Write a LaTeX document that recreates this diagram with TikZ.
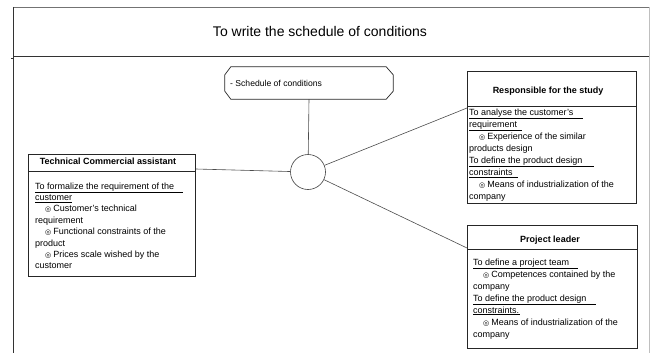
\documentclass[tikz,border=0pt]{standalone}
\usepackage{fontspec}
\setmainfont{Liberation Sans}
\newfontfamily\symfont{DejaVu Sans}
\usetikzlibrary{calc}

% bullet used in front of the resources listed under each task
\newcommand{\resbul}{\hspace*{10pt}{\symfont\fontsize{7}{7}\selectfont ◎}\hspace{2pt}}
% underlined task heading, with an extra underlined tail
\newcommand{\taskul}[2]{\underline{#1\hspace{#2}}}

\tikzset{
  frameline/.style={line width=0.9pt, draw=black!80},
  boxline/.style={draw=black!85, line width=0.8pt},
  conn/.style={draw=black!70, line width=0.6pt},
  boxtitle/.style={inner sep=0pt, font=\fontsize{9}{11}\selectfont\bfseries},
  bodytext/.style={inner sep=0pt, align=left, anchor=north west},
  rolebox/.style={boxline, anchor=north west, inner sep=0pt},
}

\begin{document}
\begin{tikzpicture}[x=1pt,y=-1pt]
\useasboundingbox (0,0) rectangle (650,353);

% page frame with the title band
\draw[line width=0.8pt, draw=black!55] (13,7) -- (649,7);
\draw[frameline] (13,56) -- (649,56);
\draw[line width=1pt, draw=black!80] (13,7) -- (13,353);
\draw[line width=0.6pt, draw=black!25] (649,7) -- (649,353);
\draw[line width=1pt, draw=black!80] (11,59) -- (13,59);
\node[inner sep=0pt, font=\fontsize{14}{16}\selectfont] (title) at (320,31) {To write the schedule of conditions};

% central deliverable
\node[minimum width=168pt, minimum height=32pt, inner sep=0pt] (sched) at (309,83) {};
\draw[boxline, line width=0.7pt]
  ($(sched.north west)+(6,0)$) -- ($(sched.north east)+(-7,0)$) -- ($(sched.north east)+(0,8)$)
  -- ($(sched.south east)+(0,-8)$) -- ($(sched.south east)+(-7,0)$) -- ($(sched.south west)+(6,0)$)
  -- ($(sched.south west)+(0,-8)$) -- ($(sched.north west)+(0,8)$) -- cycle;
\node[inner sep=0pt, anchor=west, font=\fontsize{8.6}{10}\selectfont] (schedlabel) at (230,83) {- Schedule of conditions};

% hub
\node[circle, draw=black!75, line width=0.6pt, minimum size=35pt, inner sep=0pt] (hub) at (308,172) {};

% Technical Commercial assistant
\node[rolebox, minimum width=167pt, minimum height=122pt] (tech) at (28,154) {};
\draw[boxline] ($(tech.north west)+(0,17)$) -- ($(tech.north east)+(0,17)$);
\node[boxtitle] (techtitle) at (108,161) {Technical Commercial assistant};
\node[bodytext, font=\fontsize{9}{11.4}\selectfont] (techbody) at (35,182.4) {%
\taskul{To formalize the requirement of the}{9pt}\\
\taskul{customer}{0pt}\\
\resbul Customer’s technical\\
requirement\\
\resbul Functional constraints of the\\
product\\
\resbul Prices scale wished by the\\
customer};

% Responsible for the study
\node[rolebox, minimum width=169pt, minimum height=132pt] (resp) at (467,71) {};
\draw[boxline] ($(resp.north west)+(0,35)$) -- ($(resp.north east)+(0,35)$);
\node[boxtitle] (resptitle) at (548,91) {Responsible for the study};
\node[bodytext, font=\fontsize{9}{12}\selectfont] (respbody) at (469,108.6) {%
\taskul{To analyse the customer’s}{10pt}\\
\taskul{requirement}{5pt}\\
\resbul Experience of the similar\\
products design\\
\taskul{To define the product design}{12pt}\\
\taskul{constraints}{5pt}\\
\resbul Means of industrialization of the\\
company};

% Project leader
\node[rolebox, minimum width=170pt, minimum height=123pt] (proj) at (467,225) {};
\draw[boxline] ($(proj.north west)+(0,24)$) -- ($(proj.north east)+(0,24)$);
\node[boxtitle] (projtitle) at (550,240) {Project leader};
\node[bodytext, font=\fontsize{9}{12}\selectfont] (projbody) at (473,258.4) {%
\taskul{To define a project team}{9pt}\\
\resbul Competences contained by the\\
company\\
\taskul{To define the product design}{10pt}\\
\taskul{constraints.}{1pt}\\
\resbul Means of industrialization of the\\
company};

% connectors from the hub
\draw[conn] (sched.south) -- (hub);
\draw[conn] (hub) -- ($(tech.north east)+(0,15)$);
\draw[conn] (hub) -- ($(resp.north west)+(0,37)$);
\draw[conn] (hub) -- ($(proj.north west)+(0,23)$);
\end{tikzpicture}
\end{document}
